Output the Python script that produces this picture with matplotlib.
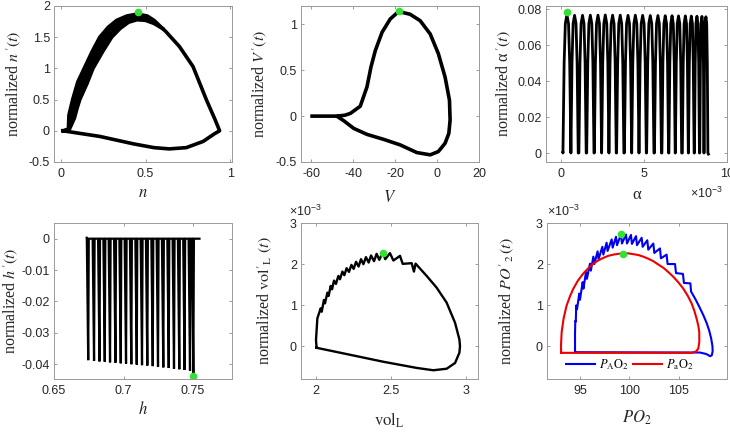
import matplotlib
matplotlib.use('Agg')
import matplotlib.pyplot as plt
from matplotlib.ticker import FuncFormatter
import numpy as np

plt.rcParams['font.family'] = 'Liberation Sans'
plt.rcParams['mathtext.fontset'] = 'stix'
plt.rcParams['axes.unicode_minus'] = False

GREEN = '#33e033'
TXT = '#262626'
SERIF = 'Liberation Serif'

# ---- n vs n' (outer loop and inner edge of the thick band)
n_x = [0.013, 0.045, 0.048, 0.070, 0.100, 0.138, 0.185, 0.230, 0.280, 0.330, 0.390, 0.450,
       0.510, 0.550, 0.620, 0.700, 0.780, 0.860, 0.910, 0.937, 0.908, 0.840, 0.740, 0.640,
       0.550, 0.430, 0.230, 0.013]
n_y = [0.000, 0.030, 0.250, 0.500, 0.780, 1.000, 1.270, 1.500, 1.660, 1.770, 1.840, 1.870,
       1.840, 1.770, 1.590, 1.350, 1.030, 0.490, 0.180, 0.000, -0.045, -0.170, -0.270, -0.290,
       -0.270, -0.210, -0.090, 0.000]
n_in_x = [0.050, 0.080, 0.095, 0.112, 0.155, 0.190, 0.245, 0.300, 0.350, 0.400, 0.450, 0.500, 0.550, 0.600]
n_in_y = [0.020, 0.200, 0.350, 0.500, 0.760, 1.000, 1.260, 1.500, 1.640, 1.740, 1.780, 1.770, 1.720, 1.640]
n_dot = (0.456, 1.90)

# ---- V vs V'
V_x = [-59.7, -52.0, -47.8, -44.0, -41.4, -36.7, -33.5, -31.6, -29.5, -26.3, -22.4, -18.4,
       -12.9, -8.1, -3.3, 0.6, 3.8, 5.9, 6.2, 5.6, 3.8, 0.6, -3.3, -9.7, -17.6, -25.6,
       -33.5, -39.8, -44.6, -47.5]
V_y = [0.000, 0.000, 0.000, 0.010, 0.030, 0.108, 0.318, 0.534, 0.715, 0.913, 1.058, 1.140,
       1.110, 1.040, 0.895, 0.680, 0.426, 0.173, -0.043, -0.188, -0.296, -0.386, -0.422, -0.397,
       -0.314, -0.253, -0.199, -0.134, -0.050, -0.007]
V_dot = (-18.4, 1.15)

# ---- alpha vs alpha' (alpha in units of 1e-3), one arch per cycle
alpha_peak_x = [0.36, 0.82, 1.30, 1.77, 2.23, 2.67, 3.11, 3.57, 4.04, 4.48, 4.92, 5.38,
                5.84, 6.28, 6.69, 7.08, 7.49, 7.85, 8.19, 8.49, 8.73]
alpha_half_w = [0.24, 0.22, 0.22, 0.22, 0.22, 0.22, 0.22, 0.22, 0.22, 0.22, 0.22, 0.22,
                0.21, 0.20, 0.19, 0.19, 0.18, 0.17, 0.15, 0.13, 0.12]
alpha_peak_y = [0.0770, 0.0766, 0.0766, 0.0767, 0.0767, 0.0768, 0.0767, 0.0767, 0.0766, 0.0767,
                0.0766, 0.0765, 0.0765, 0.0764, 0.0764, 0.0763, 0.0763, 0.0762, 0.0761, 0.0760, 0.0758]
arch_dx = [-1.0, -0.7, -0.4, 0.0, 0.4, 0.7, 1.0]        # arch profile (fraction of half width)
arch_lvl = [0.0, 0.050, 0.072, None, 0.072, 0.050, 0.0]  # None -> peak height
alpha_end = (8.88, -0.0006)
alpha_dot = (0.36, 0.0787)

# ---- h vs h', one downward spike per cycle
h_spike_x = [0.6736, 0.6778, 0.6817, 0.6855, 0.6893, 0.6932, 0.6970, 0.7008, 0.7046, 0.7085, 0.7123,
             0.7161, 0.7200, 0.7238, 0.7276, 0.7315, 0.7353, 0.7391, 0.7429, 0.7468, 0.7492]
h_spike_y = [-0.0387, -0.0389, -0.0391, -0.0392, -0.0394, -0.0395, -0.0397, -0.0398, -0.0400, -0.0401,
             -0.0403, -0.0404, -0.0406, -0.0408, -0.0410, -0.0412, -0.0414, -0.0416, -0.0418, -0.0421, -0.0430]
h_end = 0.7546
h_dot = (0.7502, -0.0436)

# ---- vol_L vs vol_L' (y in units of 1e-3)
vol_x = [2.004, 2.000, 2.009, 2.031, 2.038, 2.053, 2.060, 2.076, 2.084, 2.098, 2.107, 2.120, 2.133,
         2.149, 2.160, 2.176, 2.189, 2.204, 2.220, 2.236, 2.251, 2.267, 2.284, 2.300, 2.316, 2.333,
         2.351, 2.367, 2.387, 2.404, 2.422, 2.444, 2.462, 2.493, 2.516, 2.560, 2.578, 2.638, 2.653,
         2.664, 2.738, 2.804, 2.871, 2.927, 2.956, 2.960, 2.956, 2.927, 2.871, 2.782, 2.671, 2.449,
         2.227, 2.004]
vol_y = [-0.040, 0.147, 0.676, 0.921, 0.839, 1.125, 1.043, 1.304, 1.222, 1.467, 1.385, 1.597, 1.516,
         1.711, 1.630, 1.817, 1.728, 1.899, 1.809, 1.980, 1.883, 2.054, 1.940, 2.119, 1.997, 2.168,
         2.037, 2.209, 2.070, 2.249, 2.103, 2.282, 2.119, 2.266, 2.086, 2.200, 2.005, 2.021, 1.817,
         2.010, 1.710, 1.426, 1.060, 0.570, 0.163, 0.000, -0.160, -0.410, -0.550, -0.587, -0.530,
         -0.380, -0.210, -0.040]
vol_dot = (2.444, 2.28)

# ---- PO2 (y in units of 1e-3)
pa_x = [94.50, 94.50, 94.53, 94.58, 94.62, 94.70, 94.93, 95.00, 95.27, 95.35, 95.61, 95.70, 96.01,
        96.10, 96.35, 96.45, 96.78, 96.88, 97.26, 97.36, 97.69, 97.79, 98.20, 98.30, 98.64, 98.74,
        99.14, 99.24, 99.65, 99.75, 100.15, 100.25, 100.66, 100.76, 101.23, 101.33, 101.80, 101.90,
        102.41, 102.51, 103.08, 103.18, 103.75, 103.85, 104.60, 104.70, 105.40, 105.50, 106.15,
        106.22, 106.65, 107.05, 107.45, 107.80, 108.05, 108.25, 108.38, 108.40, 108.32, 108.15,
        107.75, 107.10, 94.50]
pa_y = [-0.147, 0.300, 0.620, 0.600, 0.990, 0.900, 1.280, 1.130, 1.560, 1.400, 1.810, 1.640, 2.010,
        1.840, 2.180, 2.000, 2.310, 2.120, 2.420, 2.230, 2.520, 2.320, 2.600, 2.400, 2.665, 2.460,
        2.720, 2.500, 2.720, 2.500, 2.710, 2.490, 2.680, 2.460, 2.640, 2.420, 2.580, 2.350,
        2.500, 2.270, 2.380, 2.140, 2.230, 2.000, 2.000, 1.780, 1.760, 1.540, 1.530,
        1.330, 1.150, 0.960, 0.760, 0.560, 0.380, 0.190, 0.000, -0.120, -0.220, -0.245,
        -0.190, -0.155, -0.147]
pa2_x = [93.10, 93.08, 93.15, 93.35, 93.65, 94.00, 94.33, 94.80, 95.34, 95.85, 96.35, 96.85, 97.36,
         97.85, 98.37, 98.90, 99.38, 99.90, 100.39, 100.90, 101.40, 101.90, 102.41, 102.90, 103.42,
         103.90, 104.43, 104.95, 105.44, 105.90, 106.28, 106.55, 106.78, 106.95, 107.05, 107.05,
         106.95, 106.72, 106.30, 93.10]
pa2_y = [-0.163, 0.000, 0.340, 0.680, 0.990, 1.220, 1.400, 1.600, 1.770, 1.900, 2.010, 2.090, 2.150,
         2.200, 2.230, 2.250, 2.260, 2.260, 2.240, 2.220, 2.180, 2.130, 2.070, 1.990, 1.910,
         1.810, 1.690, 1.550, 1.400, 1.220, 1.040, 0.860, 0.670, 0.500, 0.340, 0.100,
         -0.060, -0.130, -0.163, -0.163]
pa_dot = (99.14, 2.74)
pa2_dot = (99.38, 2.25)

SCALE_E3 = '×10$^{\\mathdefault{-3}}$'
TICK_FS = 9
LABEL_FS = 11.5


def fmt_g(v, pos):
    return '%g' % round(v, 6)


def fmt_e3(v, pos):
    return '%g' % round(v / 1e-3, 6)


def style(ax, xlim, ylim, xticks, yticks, sci_x=False, sci_y=False):
    ax.set_xlim(xlim)
    ax.set_ylim(ylim)
    ax.set_xticks(xticks)
    ax.set_yticks(yticks)
    ax.tick_params(direction='in', top=True, right=True, length=2.5, width=0.6,
                   color='#8c8c8c', labelsize=TICK_FS, labelcolor=TXT)
    ax.tick_params(axis='x', pad=4)
    ax.tick_params(axis='y', pad=3)
    for s in ax.spines.values():
        s.set_color('#9a9a9a')
        s.set_linewidth(0.7)
    ax.xaxis.set_major_formatter(FuncFormatter(fmt_e3 if sci_x else fmt_g))
    ax.yaxis.set_major_formatter(FuncFormatter(fmt_e3 if sci_y else fmt_g))


def labels(ax, xl, yl, xl_y, yl_x):
    ax.set_xlabel(xl, fontsize=12, family=SERIF, color=TXT)
    ax.set_ylabel(yl, fontsize=LABEL_FS, family=SERIF, color=TXT)
    ax.xaxis.set_label_coords(0.5, xl_y)
    ax.xaxis.label.set_va('top')
    ax.yaxis.set_label_coords(yl_x, 0.5)


fig = plt.figure(figsize=(7.3, 4.32), dpi=100)


def add_axes(l, r, t, b):
    return fig.add_axes([l / 730, (432 - b) / 432, (r - l) / 730, (b - t) / 432])


# top-left
ax = add_axes(54, 232, 6, 162)
band_x = n_x[1:13] + n_in_x[::-1]
band_y = n_y[1:13] + n_in_y[::-1]
ax.fill(band_x, band_y, color='k', lw=0)
ax.plot(n_x, n_y, color='k', lw=2.6, solid_joinstyle='round')
ax.plot(n_in_x, n_in_y, color='k', lw=2.6, solid_joinstyle='round')
ax.plot(*n_dot, 'o', color=GREEN, ms=5.5, mec='none')
style(ax, (-0.04, 1.01), (-0.5, 2), [0, 0.5, 1], [-0.5, 0, 0.5, 1, 1.5, 2])
labels(ax, '$n$', "normalized $n\\,'(t)$", -0.15, -0.175)

# top-middle
ax = add_axes(301, 479, 6, 162)
ax.plot(V_x, V_y, color='k', lw=2.6, solid_joinstyle='round')
ax.plot(*V_dot, 'o', color=GREEN, ms=5.5, mec='none')
style(ax, (-65, 20), (-0.5, 1.2), [-60, -40, -20, 0, 20], [-0.5, 0, 0.5, 1])
labels(ax, '$V$', "normalized $V\\,'(t)$", -0.18, -0.18)

# top-right
ax = add_axes(546, 727, 6, 162)
ax_x, ax_y = [], []
for p, w, hpk in zip(alpha_peak_x, alpha_half_w, alpha_peak_y):
    for d, lv in zip(arch_dx, arch_lvl):
        ax_x.append(p + d * w)
        ax_y.append(hpk if lv is None else lv)
ax_x.append(alpha_end[0])
ax_y.append(alpha_end[1])
ax_x.insert(0, alpha_peak_x[0] - alpha_half_w[0])
ax_y.insert(0, 0.0002)
ax.plot(np.array(ax_x) * 1e-3, ax_y, color='k', lw=2.0, solid_joinstyle='round')
ax.plot(alpha_dot[0] * 1e-3, alpha_dot[1], 'o', color=GREEN, ms=5.5, mec='none')
style(ax, (-0.9e-3, 10e-3), (-0.005, 0.0818), [0, 5e-3, 10e-3], [0, 0.02, 0.04, 0.06, 0.08], sci_x=True)
labels(ax, 'α', "normalized α$\\,'(t)$", -0.16, -0.18)
ax.text(0.975, -0.2, SCALE_E3, transform=ax.transAxes, ha='right', va='center',
        fontsize=TICK_FS, color=TXT)

# bottom-left
ax = add_axes(54, 232, 223, 379)
hx, hy = [h_spike_x[0] - 0.0001], [0.0003]
for sx, sy in zip(h_spike_x, h_spike_y):
    hx += [sx, sx + 0.0010, sx + 0.0014]
    hy += [0.0, sy, 0.0]
hx.append(h_end)
hy.append(0.0)
ax.plot(hx, hy, color='k', lw=1.6, solid_joinstyle='miter')
ax.plot(*h_dot, 'o', color=GREEN, ms=5.5, mec='none')
style(ax, (0.65, 0.778), (-0.0447, 0.005), [0.65, 0.7, 0.75], [-0.04, -0.03, -0.02, -0.01, 0])
labels(ax, '$h$', "normalized $h\\,'(t)$", -0.14, -0.19)

# bottom-middle
ax = add_axes(301, 478, 223, 379)
ax.plot(vol_x, np.array(vol_y) * 1e-3, color='k', lw=1.7, solid_joinstyle='round')
ax.plot(vol_dot[0], vol_dot[1] * 1e-3, 'o', color=GREEN, ms=5.5, mec='none')
style(ax, (1.9, 3.08), (-0.8e-3, 3e-3), [2, 2.5, 3], [0, 1e-3, 2e-3, 3e-3], sci_y=True)
ax.text(-0.065, 1.025, SCALE_E3, transform=ax.transAxes, ha='left', va='bottom',
        fontsize=TICK_FS, color=TXT)
labels(ax, r'$\mathrm{vol}_\mathrm{L}$', r"normalized $\mathrm{vol}'_\mathrm{L}\ (t)$", -0.2, -0.15)

# bottom-right
ax = add_axes(547, 727, 223, 379)
ax.plot(pa_x, np.array(pa_y) * 1e-3, color='#0000ee', lw=1.5, label=r'$P_\mathrm{A}\mathrm{O}_2$')
ax.plot(pa2_x, np.array(pa2_y) * 1e-3, color='#ee0000', lw=1.5, label=r'$P_\mathrm{a}\mathrm{O}_2$')
ax.plot(pa_dot[0], pa_dot[1] * 1e-3, 'o', color=GREEN, ms=5.5, mec='none')
ax.plot(pa2_dot[0], pa2_dot[1] * 1e-3, 'o', color=GREEN, ms=5.5, mec='none')
style(ax, (91.67, 109.85), (-0.8e-3, 3e-3), [95, 100, 105], [0, 1e-3, 2e-3, 3e-3], sci_y=True)
ax.text(0.0, 1.025, SCALE_E3, transform=ax.transAxes, ha='left', va='bottom',
        fontsize=TICK_FS, color=TXT)
labels(ax, '$PO_2$', r"normalized $PO'_2\,(t)$", -0.19, -0.175)
ax.legend(loc='lower center', bbox_to_anchor=(0.46, -0.01), ncol=2, frameon=False, fontsize=9,
          handlelength=2.3, handletextpad=0.35, columnspacing=0.3, borderaxespad=0.3)

fig.savefig('out.png', dpi=100)
